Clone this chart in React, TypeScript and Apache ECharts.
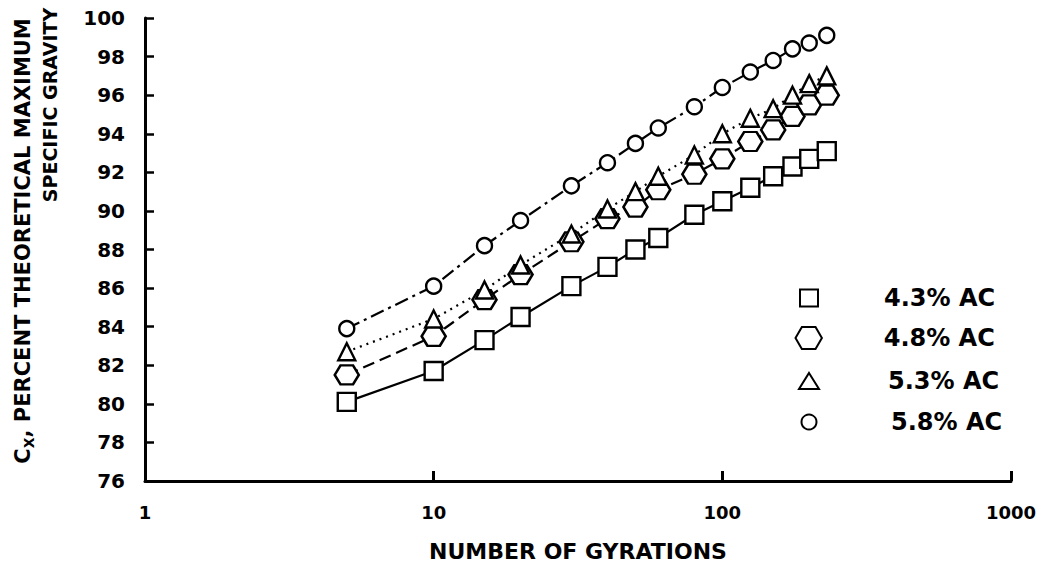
import React, { useEffect, useRef } from "react";
import * as echarts from "echarts";

const gyrations = [5, 10, 15, 20, 30, 40, 50, 60, 80, 100, 125, 150, 175, 200, 230];
const ac43 = [80.1, 81.7, 83.3, 84.5, 86.1, 87.1, 88.0, 88.6, 89.8, 90.5, 91.2, 91.8, 92.3, 92.7, 93.1];
const ac48 = [81.5, 83.5, 85.4, 86.7, 88.4, 89.6, 90.2, 91.1, 91.9, 92.7, 93.6, 94.2, 94.9, 95.5, 96.0];
const ac53 = [82.7, 84.4, 85.9, 87.2, 88.8, 90.1, 91.0, 91.8, 92.9, 94.0, 94.8, 95.3, 96.0, 96.6, 97.0];
const ac58 = [83.9, 86.1, 88.2, 89.5, 91.3, 92.5, 93.5, 94.3, 95.4, 96.4, 97.2, 97.8, 98.4, 98.7, 99.1];
const seriesNames = ["4.3% AC", "4.8% AC", "5.3% AC", "5.8% AC"];
const xTickLabels: Record<number, string> = { 1: "1", 10: "10", 100: "100", 1000: "1000" };

const FONT = "DejaVu Sans";
const HEX = "path://M0,5 L2.9,0 L9.1,0 L12,5 L9.1,10 L2.9,10 Z";

export default function App() {
  const ref = useRef<HTMLDivElement>(null);
  useEffect(() => {
    if (!ref.current) return;
    const chart = echarts.init(ref.current, undefined, { renderer: "svg" });
    const pairs = (ys: number[]) => gyrations.map((g, i) => [g, ys[i]]);
    const itemStyle = { color: "#fff", borderColor: "#000", borderWidth: 2.4 };
    const mk = (name: string, ys: number[], symbol: string, size: any, type: any) => ({
      name,
      type: "line",
      data: pairs(ys),
      symbol,
      symbolSize: size,
      itemStyle,
      lineStyle: { color: "#000", width: 2.2, type },
      z: 3,
    });
    // legend rows: [icon, iconW, iconH, rowCenterY, textStartX]
    const legendRows: [string, number, number, number, number][] = [
      ["rect", 18, 17, 298, 883],
      [HEX, 27, 22, 338, 883],
      ["triangle", 20, 16, 381, 887],
      ["circle", 15, 15, 422, 890],
    ];
    const legends = legendRows.map(([icon, w, h, cy, tx], i) => {
      const left = 808 - w / 2;
      return {
        orient: "vertical",
        left,
        top: cy - 13,
        padding: 0,
        itemWidth: w,
        itemHeight: h,
        textStyle: {
          color: "#000",
          fontFamily: FONT,
          fontWeight: "bold",
          fontSize: 24,
          lineHeight: 26,
          padding: [0, 0, 0, tx - left - w - 5],
        },
        data: [{ name: seriesNames[i], icon }],
      };
    });
    chart.setOption({
      animation: false,
      backgroundColor: "#fff",
      grid: { left: 145, right: 35, top: 18, bottom: 83 },
      xAxis: {
        type: "log",
        logBase: 10,
        min: 1,
        max: 1000,
        axisLine: { lineStyle: { color: "#000", width: 3 } },
        axisTick: { inside: true, length: 10, lineStyle: { color: "#000", width: 3 } },
        minorTick: { show: false },
        splitLine: { show: false },
        axisLabel: {
          color: "#000",
          fontFamily: FONT,
          fontWeight: "bold",
          fontSize: 18,
          margin: 22,
          formatter: (v: number) => xTickLabels[Math.round(v)] ?? "",
        },
        name: "NUMBER OF GYRATIONS",
        nameLocation: "middle",
        nameGap: 59,
        nameTextStyle: { color: "#000", fontFamily: FONT, fontWeight: "bold", fontSize: 22, verticalAlign: "top" },
      },
      yAxis: {
        type: "value",
        min: 76,
        max: 100,
        interval: 2,
        axisLine: { lineStyle: { color: "#000", width: 3 } },
        axisTick: { inside: true, length: 9, lineStyle: { color: "#000", width: 2.5 } },
        splitLine: { show: false },
        axisLabel: { color: "#000", fontFamily: FONT, fontWeight: "bold", fontSize: 20, margin: 20 },
      },
      legend: legends,
      graphic: [
        {
          type: "text",
          x: 23,
          y: 241,
          rotation: Math.PI / 2,
          style: {
            text: "C{sub|X}, PERCENT THEORETICAL MAXIMUM",
            fill: "#000",
            font: `bold 21px "${FONT}"`,
            align: "center",
            verticalAlign: "middle",
            rich: { sub: { fontSize: 14, fontWeight: "bold", fontFamily: FONT, padding: [12, 0, 0, 0], fill: "#000" } },
          },
        },
        {
          type: "text",
          x: 50,
          y: 105,
          rotation: Math.PI / 2,
          style: {
            text: "SPECIFIC GRAVITY",
            fill: "#000",
            font: `bold 19px "${FONT}"`,
            align: "center",
            verticalAlign: "middle",
          },
        },
      ],
      series: [
        mk(seriesNames[0], ac43, "rect", 18, "solid"),
        mk(seriesNames[1], ac48, HEX, [24, 19], [12, 6]),
        mk(seriesNames[2], ac53, "triangle", 17, [2, 5]),
        mk(seriesNames[3], ac58, "circle", 15, [14, 5, 3, 5]),
      ],
    });
    return () => chart.dispose();
  }, []);
  return <div ref={ref} style={{ width: 1046, height: 567, position: "absolute", left: 0, top: 0 }} />;
}
